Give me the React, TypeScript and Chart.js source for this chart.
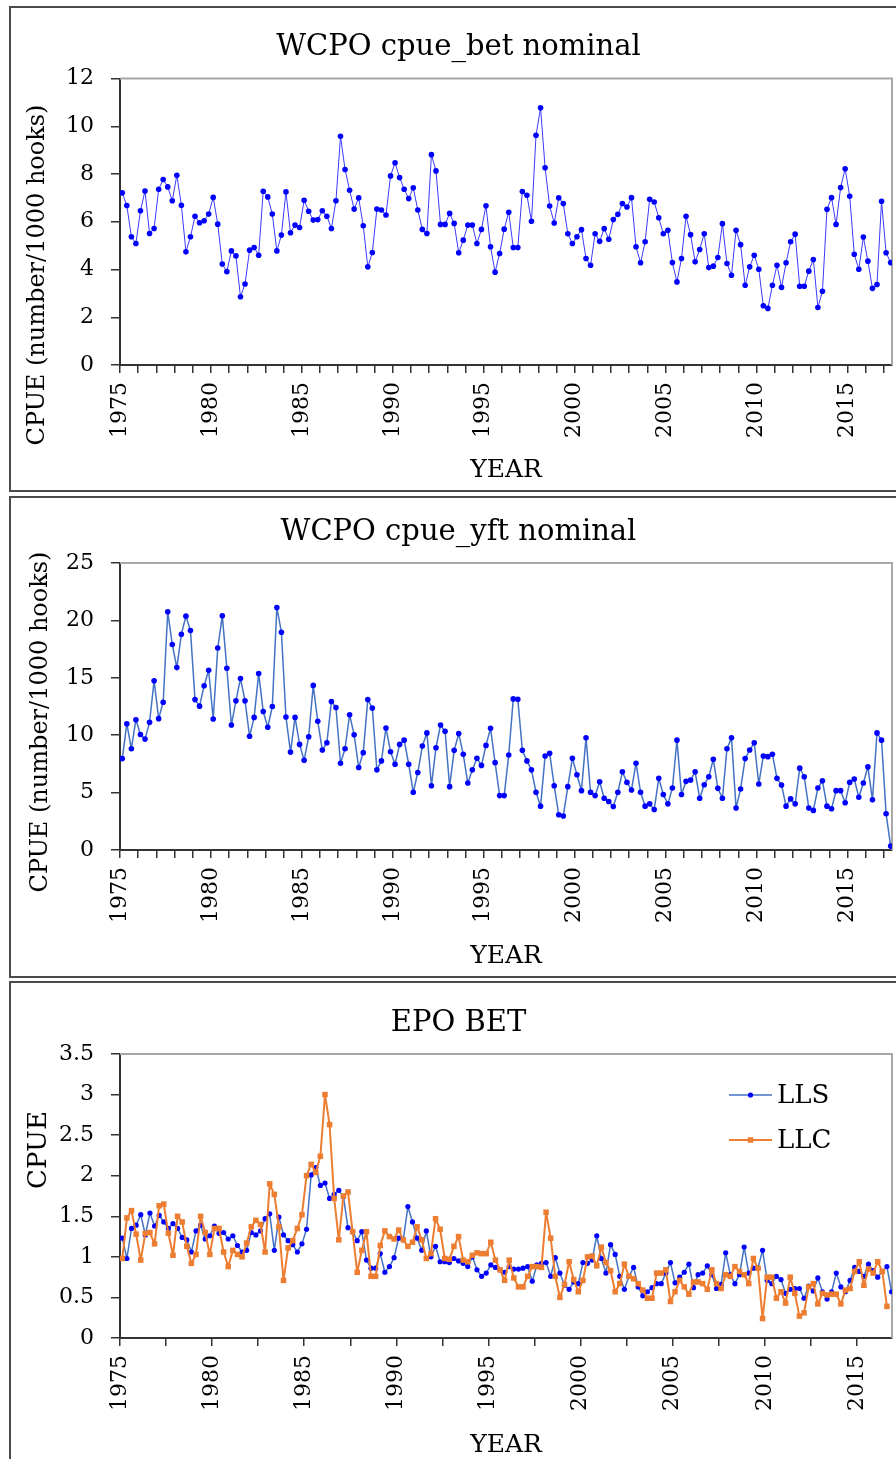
import React, { useEffect, useRef } from 'react';
import { Chart, registerables } from 'chart.js';

Chart.register(...registerables);

const FONT = '"DejaVu Serif", serif';

// ---------- data (quarterly CPUE, first quarter of 1975 onwards) ----------
const BET_CPUE = [
  7.21, 6.68, 5.37, 5.09, 6.46, 7.29, 5.51, 5.72, 7.36, 7.77,
  7.46, 6.88, 7.95, 6.69, 4.74, 5.37, 6.23, 5.96, 6.04, 6.32,
  7.02, 5.90, 4.23, 3.91, 4.78, 4.57, 2.86, 3.39, 4.81, 4.92,
  4.60, 7.28, 7.04, 6.32, 4.78, 5.44, 7.25, 5.54, 5.86, 5.76,
  6.90, 6.44, 6.07, 6.09, 6.46, 6.23, 5.72, 6.88, 9.58, 8.19,
  7.32, 6.53, 7.00, 5.83, 4.11, 4.71, 6.53, 6.49, 6.28, 7.92,
  8.47, 7.85, 7.36, 6.97, 7.42, 6.49, 5.68, 5.51, 8.81, 8.13,
  5.89, 5.89, 6.35, 5.93, 4.70, 5.23, 5.86, 5.86, 5.09, 5.68,
  6.67, 4.95, 3.89, 4.67, 5.69, 6.40, 4.92, 4.92, 7.27, 7.11,
  6.02, 9.62, 10.77, 8.26, 6.66, 5.95, 7.00, 6.76, 5.50, 5.09,
  5.37, 5.67, 4.46, 4.18, 5.50, 5.18, 5.71, 5.27, 6.09, 6.31,
  6.76, 6.62, 7.01, 4.95, 4.28, 5.16, 6.94, 6.83, 6.17, 5.50,
  5.64, 4.29, 3.48, 4.46, 6.23, 5.46, 4.32, 4.84, 5.50, 4.08,
  4.14, 4.50, 5.92, 4.25, 3.76, 5.64, 5.04, 3.34, 4.11, 4.60,
  4.01, 2.48, 2.37, 3.34, 4.18, 3.25, 4.28, 5.16, 5.48, 3.30,
  3.30, 3.93, 4.42, 2.41, 3.09, 6.52, 7.01, 5.89, 7.43, 8.22,
  7.07, 4.64, 4.01, 5.36, 4.35, 3.21, 3.37, 6.86, 4.70, 4.29,
];

const YFT_CPUE = [
  7.96, 11.0, 8.82, 11.35, 10.06, 9.66, 11.12, 14.74, 11.44, 12.87,
  20.75, 17.9, 15.89, 18.79, 20.37, 19.11, 13.10, 12.53, 14.31, 15.66,
  11.41, 17.59, 20.40, 15.83, 10.89, 12.99, 14.94, 12.99, 9.91, 11.55,
  15.37, 12.07, 10.69, 12.5, 21.12, 18.97, 11.58, 8.53, 11.55, 9.20,
  7.82, 9.86, 14.34, 11.21, 8.71, 9.34, 12.93, 12.41, 7.56, 8.82,
  11.78, 10.03, 7.18, 8.48, 13.10, 12.36, 6.98, 7.76, 10.63, 8.56,
  7.47, 9.20, 9.57, 7.47, 5.03, 6.75, 9.05, 10.20, 5.60, 8.91,
  10.89, 10.34, 5.52, 8.68, 10.14, 8.33, 5.83, 6.98, 7.99, 7.37,
  9.11, 10.6, 7.61, 4.74, 4.74, 8.28, 13.16, 13.13, 8.68, 7.76,
  6.98, 5.03, 3.82, 8.19, 8.42, 5.60, 3.07, 2.96, 5.52, 7.99,
  6.55, 5.17, 9.77, 5.03, 4.74, 5.95, 4.51, 4.22, 3.79, 5.03,
  6.81, 5.89, 5.23, 7.56, 5.03, 3.82, 4.02, 3.53, 6.24, 4.83,
  4.02, 5.40, 9.57, 4.83, 5.98, 6.09, 6.81, 4.51, 5.69, 6.38,
  7.90, 5.37, 4.51, 8.82, 9.77, 3.65, 5.32, 7.96, 8.71, 9.34,
  5.75, 8.19, 8.13, 8.33, 6.24, 5.66, 3.82, 4.45, 4.02, 7.13,
  6.38, 3.65, 3.45, 5.40, 6.03, 3.82, 3.59, 5.17, 5.17, 4.11,
  5.89, 6.18, 4.60, 5.83, 7.24, 4.37, 10.20, 9.57, 3.16, 0.34,
];

const EPO_LLS = [
  1.23, 0.98, 1.35, 1.39, 1.52, 1.27, 1.54, 1.38, 1.51, 1.43,
  1.35, 1.41, 1.35, 1.24, 1.21, 1.06, 1.32, 1.39, 1.22, 1.26,
  1.38, 1.29, 1.30, 1.22, 1.26, 1.14, 1.06, 1.08, 1.30, 1.27,
  1.32, 1.47, 1.53, 1.08, 1.49, 1.27, 1.20, 1.15, 1.06, 1.16,
  1.34, 2.01, 2.10, 1.88, 1.91, 1.72, 1.77, 1.82, 1.74, 1.36,
  1.31, 1.20, 1.31, 0.96, 0.86, 0.86, 1.04, 0.81, 0.88, 0.99,
  1.23, 1.21, 1.62, 1.43, 1.23, 1.08, 1.32, 1.00, 1.13, 0.94,
  0.94, 0.93, 0.98, 0.95, 0.92, 0.88, 1.00, 0.84, 0.76, 0.80,
  0.90, 0.87, 0.84, 0.81, 0.88, 0.85, 0.85, 0.86, 0.88, 0.70,
  0.90, 0.92, 0.93, 0.76, 0.99, 0.80, 0.65, 0.60, 0.69, 0.67,
  0.93, 0.92, 0.96, 1.26, 0.98, 0.80, 1.15, 1.03, 0.76, 0.60,
  0.76, 0.87, 0.63, 0.52, 0.57, 0.62, 0.67, 0.67, 0.80, 0.93,
  0.68, 0.75, 0.81, 0.91, 0.62, 0.78, 0.80, 0.89, 0.78, 0.61,
  0.66, 1.05, 0.78, 0.67, 0.78, 1.12, 0.80, 0.86, 0.86, 1.08,
  0.71, 0.67, 0.76, 0.72, 0.55, 0.60, 0.61, 0.61, 0.49, 0.64,
  0.58, 0.74, 0.57, 0.48, 0.57, 0.80, 0.63, 0.57, 0.71, 0.87,
  0.82, 0.76, 0.91, 0.83, 0.75, 0.82, 0.88, 0.57,
];

const EPO_LLC = [
  0.98, 1.48, 1.57, 1.28, 0.96, 1.29, 1.30, 1.16, 1.63, 1.65,
  1.29, 1.02, 1.50, 1.43, 1.13, 0.92, 1.03, 1.50, 1.30, 1.03,
  1.35, 1.35, 1.06, 0.88, 1.08, 1.03, 1.00, 1.17, 1.37, 1.45,
  1.40, 1.06, 1.90, 1.77, 1.37, 0.71, 1.11, 1.20, 1.35, 1.52,
  2.00, 2.14, 2.04, 2.24, 3.00, 2.63, 1.72, 1.21, 1.75, 1.80,
  1.31, 0.81, 1.08, 1.31, 0.76, 0.76, 1.14, 1.32, 1.25, 1.22,
  1.33, 1.21, 1.13, 1.18, 1.37, 1.21, 0.98, 1.04, 1.47, 1.34,
  0.98, 0.97, 1.13, 1.25, 0.96, 0.94, 1.02, 1.05, 1.04, 1.04,
  1.18, 0.96, 0.84, 0.71, 0.96, 0.74, 0.63, 0.63, 0.76, 0.88,
  0.88, 0.87, 1.55, 1.23, 0.76, 0.50, 0.66, 0.94, 0.72, 0.57,
  0.71, 1.00, 1.01, 0.89, 1.12, 0.93, 0.83, 0.57, 0.67, 0.91,
  0.76, 0.73, 0.67, 0.59, 0.49, 0.49, 0.80, 0.80, 0.84, 0.45,
  0.57, 0.71, 0.63, 0.54, 0.69, 0.69, 0.67, 0.60, 0.84, 0.67,
  0.61, 0.78, 0.76, 0.88, 0.82, 0.78, 0.67, 0.98, 0.86, 0.24,
  0.75, 0.75, 0.49, 0.57, 0.43, 0.75, 0.55, 0.27, 0.31, 0.63,
  0.67, 0.42, 0.55, 0.53, 0.54, 0.54, 0.42, 0.59, 0.61, 0.82,
  0.94, 0.65, 0.85, 0.80, 0.94, 0.82, 0.39,
];

// tick labels
const YEAR_LABELS = [1975, 1980, 1985, 1990, 1995, 2000, 2005, 2010, 2015];
const BET_Y_TICKS = [0, 2, 4, 6, 8, 10, 12];
const YFT_Y_TICKS = [0, 5, 10, 15, 20, 25];
const EPO_Y_TICKS = [0, 0.5, 1, 1.5, 2, 2.5, 3, 3.5];

// x positions: centre of each quarter
const FIRST_YEAR = 1975;
const quarterCentre = (i: number) => FIRST_YEAR + 0.125 + i * 0.25;
const yearlyTicks = Array.from({ length: 43 }, (_, k) => FIRST_YEAR + k);
const halfLustrumTicks = Array.from({ length: 17 }, (_, k) => FIRST_YEAR + 2.5 * k);

// ---------- panel layout ----------
type Series = {
  label: string;
  values: number[];
  line: string;
  marker: string;
  pointStyle: string;
  radius: number;
  width: number;
  order: number;
};

type Panel = {
  key: string;
  title: string;
  yTitle: string;
  yTitleSize: number;
  boxTop: number;
  boxHeight: number;
  canvasTop: number;
  canvasHeight: number;
  titlePadTop: number;
  titlePadBottom: number;
  xAxisHeight: number;
  xTitlePadBottom: number;
  yTitleX: number;
  yTitleY: number;
  yTicks: number[];
  xMax: number;
  xTicks: number[];
  legend: boolean;
  series: Series[];
};

const BLUE_DOT = '#0000ff';
const STEEL = '#4472c4';
const ORANGE = '#ed7d31';
const PAD_LEFT = 22;
const PLOT_LEFT = 120;

const PANELS: Panel[] = [
  {
    key: 'bet',
    title: 'WCPO cpue_bet nominal',
    yTitle: 'CPUE (number/1000 hooks)',
    yTitleSize: 24,
    boxTop: 6,
    boxHeight: 486,
    canvasTop: 7,
    canvasHeight: 484,
    titlePadTop: 22.6,
    titlePadBottom: 14.1,
    xAxisHeight: 126,
    xTitlePadBottom: 6,
    yTitleX: 38,
    yTitleY: 275,
    yTicks: BET_Y_TICKS,
    xMax: 2017.45,
    xTicks: yearlyTicks,
    legend: false,
    series: [
      { label: 'BET', values: BET_CPUE, line: '#3a3aff', marker: BLUE_DOT, pointStyle: 'circle', radius: 2.8, width: 1, order: 0 },
    ],
  },
  {
    key: 'yft',
    title: 'WCPO cpue_yft nominal',
    yTitle: 'CPUE (number/1000 hooks)',
    yTitleSize: 24,
    boxTop: 496,
    boxHeight: 482,
    canvasTop: 497,
    canvasHeight: 479,
    titlePadTop: 17.6,
    titlePadBottom: 13.6,
    xAxisHeight: 126,
    xTitlePadBottom: 5,
    yTitleX: 41,
    yTitleY: 722,
    yTicks: YFT_Y_TICKS,
    xMax: 2017.45,
    xTicks: yearlyTicks,
    legend: false,
    series: [
      { label: 'YFT', values: YFT_CPUE, line: STEEL, marker: BLUE_DOT, pointStyle: 'circle', radius: 2.8, width: 1.5, order: 0 },
    ],
  },
  {
    key: 'epo',
    title: 'EPO BET',
    yTitle: 'CPUE',
    yTitleSize: 26,
    boxTop: 981,
    boxHeight: 520,
    canvasTop: 982,
    canvasHeight: 490,
    titlePadTop: 23.6,
    titlePadBottom: 13.6,
    xAxisHeight: 134,
    xTitlePadBottom: 12,
    yTitleX: 39,
    yTitleY: 1150,
    yTicks: EPO_Y_TICKS,
    xMax: 2016.9,
    xTicks: halfLustrumTicks,
    legend: true,
    series: [
      { label: 'LLS', values: EPO_LLS, line: STEEL, marker: BLUE_DOT, pointStyle: 'circle', radius: 2.6, width: 1.5, order: 1 },
      { label: 'LLC', values: EPO_LLC, line: ORANGE, marker: ORANGE, pointStyle: 'rect', radius: 3.9, width: 2, order: 0 },
    ],
  },
];

// ---------- plugin: plot frame, y-axis title, legend ----------
const decorPlugin = {
  id: 'decor',
  beforeDatasetsDraw(chart: any) {
    const { ctx, chartArea: a } = chart;
    ctx.save();
    ctx.strokeStyle = '#a8a8a8';
    ctx.lineWidth = 2;
    ctx.beginPath();
    ctx.moveTo(a.left, a.top);
    ctx.lineTo(a.right, a.top);
    ctx.lineTo(a.right, a.bottom);
    ctx.stroke();
    ctx.restore();
  },
  afterDraw(chart: any, _args: any, opts: any) {
    const { ctx, chartArea: a } = chart;
    ctx.save();
    ctx.font = `${opts.yTitleSize}px ${FONT}`;
    ctx.fillStyle = '#000';
    ctx.textAlign = 'center';
    ctx.textBaseline = 'middle';
    ctx.translate(opts.yTitleX, opts.yTitleY);
    ctx.rotate(-Math.PI / 2);
    ctx.fillText(opts.yTitle, 0, 0);
    ctx.restore();

    if (opts.legend) {
      const x0 = a.right - 163;
      chart.data.datasets.forEach((ds: any, k: number) => {
        const y = a.top + 41 + k * 45;
        ctx.save();
        ctx.strokeStyle = ds.borderColor;
        ctx.lineWidth = ds.borderWidth;
        ctx.beginPath();
        ctx.moveTo(x0, y);
        ctx.lineTo(x0 + 43, y);
        ctx.stroke();
        ctx.fillStyle = ds.pointBackgroundColor;
        const cx = x0 + 21.5;
        if (ds.pointStyle === 'rect') {
          const s = ds.pointRadius * Math.SQRT1_2;
          ctx.fillRect(cx - s, y - s, 2 * s, 2 * s);
        } else {
          ctx.beginPath();
          ctx.arc(cx, y, ds.pointRadius, 0, Math.PI * 2);
          ctx.fill();
        }
        ctx.fillStyle = '#000';
        ctx.font = `26px ${FONT}`;
        ctx.textAlign = 'left';
        ctx.textBaseline = 'middle';
        ctx.fillText(ds.label, x0 + 48, y + 1);
        ctx.restore();
      });
    }
  },
};

function buildConfig(p: Panel): any {
  const yMax = p.yTicks[p.yTicks.length - 1];
  return {
    type: 'line',
    data: {
      datasets: p.series.map((s) => ({
        label: s.label,
        data: s.values.map((v, i) => ({ x: quarterCentre(i), y: v })),
        borderColor: s.line,
        backgroundColor: s.marker,
        pointBackgroundColor: s.marker,
        pointBorderColor: s.marker,
        pointBorderWidth: 0,
        pointStyle: s.pointStyle,
        pointRadius: s.radius,
        borderWidth: s.width,
        borderJoinStyle: 'round',
        tension: 0,
        fill: false,
        order: s.order,
      })),
    },
    options: {
      responsive: false,
      animation: false,
      devicePixelRatio: 1,
      layout: { padding: { left: PAD_LEFT, right: 1, top: 0, bottom: 0 } },
      events: [],
      plugins: {
        legend: { display: false },
        tooltip: { enabled: false },
        title: {
          display: true,
          text: p.title,
          color: '#000',
          font: { family: FONT, size: 29, weight: 'normal' },
          padding: { top: p.titlePadTop, bottom: p.titlePadBottom },
        },
        decor: {
          yTitle: p.yTitle,
          yTitleSize: p.yTitleSize,
          yTitleX: p.yTitleX,
          yTitleY: p.yTitleY - p.canvasTop,
          legend: p.legend,
        },
      },
      scales: {
        x: {
          type: 'linear',
          min: FIRST_YEAR,
          max: p.xMax,
          afterBuildTicks: (s: any) => {
            s.ticks = p.xTicks.map((v) => ({ value: v }));
          },
          afterFit: (s: any) => {
            s.height = p.xAxisHeight;
            s.paddingLeft = 0;
            s.paddingRight = 0;
          },
          ticks: {
            autoSkip: false,
            maxRotation: 90,
            minRotation: 90,
            padding: 9,
            color: '#000',
            font: { family: FONT, size: 22 },
            callback: (v: number) => (YEAR_LABELS.includes(v) ? String(v) : ''),
          },
          grid: { drawOnChartArea: false, drawTicks: true, tickLength: 8, color: '#333', lineWidth: 1.5 },
          border: { display: true, color: '#333', width: 2 },
          title: {
            display: true,
            text: 'YEAR',
            color: '#000',
            font: { family: FONT, size: 25 },
            padding: { top: 0, bottom: p.xTitlePadBottom },
          },
        },
        y: {
          type: 'linear',
          min: 0,
          max: yMax,
          afterBuildTicks: (s: any) => {
            s.ticks = p.yTicks.map((v) => ({ value: v }));
          },
          afterFit: (s: any) => {
            s.width = PLOT_LEFT - PAD_LEFT;
            s.paddingTop = 0;
            s.paddingBottom = 0;
          },
          ticks: {
            padding: 17,
            color: '#000',
            font: { family: FONT, size: 22 },
            callback: (v: number) => String(Math.round(v * 10) / 10),
          },
          grid: { drawOnChartArea: false, drawTicks: true, tickLength: 9, color: '#333', lineWidth: 1.5 },
          border: { display: true, color: '#333', width: 2 },
        },
      },
    },
    plugins: [decorPlugin],
  };
}

function PanelChart({ p }: { p: Panel }) {
  const ref = useRef<HTMLCanvasElement | null>(null);
  useEffect(() => {
    if (!ref.current) return;
    const chart = new Chart(ref.current, buildConfig(p));
    return () => chart.destroy();
  }, [p]);
  return (
    <>
      <canvas
        ref={ref}
        width={896}
        height={p.canvasHeight}
        style={{ position: 'absolute', left: 0, top: p.canvasTop, width: 896, height: p.canvasHeight }}
      />
      <div
        style={{
          position: 'absolute',
          left: 9,
          top: p.boxTop,
          width: 930,
          height: p.boxHeight,
          border: '2px solid #4a4a4a',
          boxSizing: 'border-box',
          pointerEvents: 'none',
        }}
      />
    </>
  );
}

export default function App() {
  return (
    <div
      style={{
        position: 'fixed',
        left: 0,
        top: 0,
        width: 896,
        height: 1459,
        overflow: 'hidden',
        background: '#fff',
      }}
    >
      {PANELS.map((p) => (
        <PanelChart key={p.key} p={p} />
      ))}
    </div>
  );
}
